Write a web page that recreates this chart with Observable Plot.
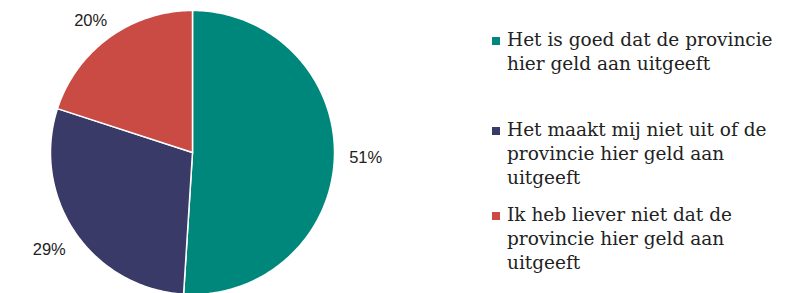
<!DOCTYPE html>
<html>
<head>
<meta charset="utf-8">
<script src="https://cdn.jsdelivr.net/npm/d3@7"></script>
<script src="https://cdn.jsdelivr.net/npm/@observablehq/plot@0.6"></script>
<style>
  html, body { margin: 0; padding: 0; background: #fff; }
  #wrap { position: relative; width: 787px; height: 293px; overflow: hidden; }
  #chart { position: absolute; left: 0; top: 0; }
  #legend { position: absolute; left: 492px; top: 0; width: 295px;
    font-family: "DejaVu Serif", serif; font-size: 18.5px; line-height: 24px; color: #222; }
  .item { position: absolute; left: 0; display: flex; align-items: flex-start; }
  .sw { width: 8px; height: 8px; flex: none; margin-top: 9px; margin-right: 7px; }
</style>
</head>
<body>
<div id="wrap">
  <div id="chart"></div>
  <div id="legend"></div>
</div>
<script>
const answers = [
  "Het is goed dat de provincie hier geld aan uitgeeft",
  "Het maakt mij niet uit of de provincie hier geld aan uitgeeft",
  "Ik heb liever niet dat de provincie hier geld aan uitgeeft"
];
const legendLines = [
  ["Het is goed dat de provincie", "hier geld aan uitgeeft"],
  ["Het maakt mij niet uit of de", "provincie hier geld aan", "uitgeeft"],
  ["Ik heb liever niet dat de", "provincie hier geld aan", "uitgeeft"]
];
const shares = [51, 29, 20];
const labels = ["51%", "29%", "20%"];
const colors = ["#00877b", "#393a67", "#c94b44"];

// layout (pixels)
const W = 480, H = 293, CX = 192, CY = 152, R = 142, LABEL_R = 1.22;

// build slice polygons in unit-circle coordinates (clockwise from top)
const total = d3.sum(shares);
const poly = [];
const labelPts = [];
let acc = 0;
shares.forEach((s, i) => {
  const a0 = acc / total * 2 * Math.PI;
  acc += s;
  const a1 = acc / total * 2 * Math.PI;
  poly.push({key: answers[i], x: 0, y: 0});
  const n = Math.max(2, Math.ceil((a1 - a0) / (Math.PI / 180)));
  for (let k = 0; k <= n; k++) {
    const a = a0 + (a1 - a0) * k / n;
    poly.push({key: answers[i], x: Math.sin(a), y: Math.cos(a)});
  }
  poly.push({key: answers[i], x: 0, y: 0});
  const am = (a0 + a1) / 2;
  labelPts.push({label: labels[i], x: LABEL_R * Math.sin(am), y: Math.min(0.93, LABEL_R * Math.cos(am))});
});

const chart = Plot.plot({
  width: W,
  height: H,
  margin: 0,
  x: {domain: [-CX / R, (W - CX) / R], axis: null},
  y: {domain: [-(H - CY) / R, CY / R], axis: null},
  color: {domain: answers, range: colors},
  style: {background: "transparent", overflow: "visible"},
  marks: [
    Plot.line(poly, {x: "x", y: "y", z: "key", fill: "key", stroke: "white", strokeWidth: 1.5, strokeLinejoin: "round", curve: "linear"}),
    Plot.text(labelPts, {x: "x", y: "y", text: "label", fontSize: 16.5, fill: "#222",
      fontFamily: "'Liberation Sans', Arial, sans-serif", textAnchor: "middle"})
  ]
});
document.getElementById("chart").appendChild(chart);

// legend
const tops = [28, 118, 203];
const legend = document.getElementById("legend");
answers.forEach((a, i) => {
  const it = document.createElement("div");
  it.className = "item";
  it.style.top = tops[i] + "px";
  const sw = document.createElement("div");
  sw.className = "sw";
  sw.style.background = colors[i];
  const tx = document.createElement("div");
  tx.innerHTML = legendLines[i].join("<br>");
  it.appendChild(sw); it.appendChild(tx);
  legend.appendChild(it);
});
</script>
</body>
</html>
